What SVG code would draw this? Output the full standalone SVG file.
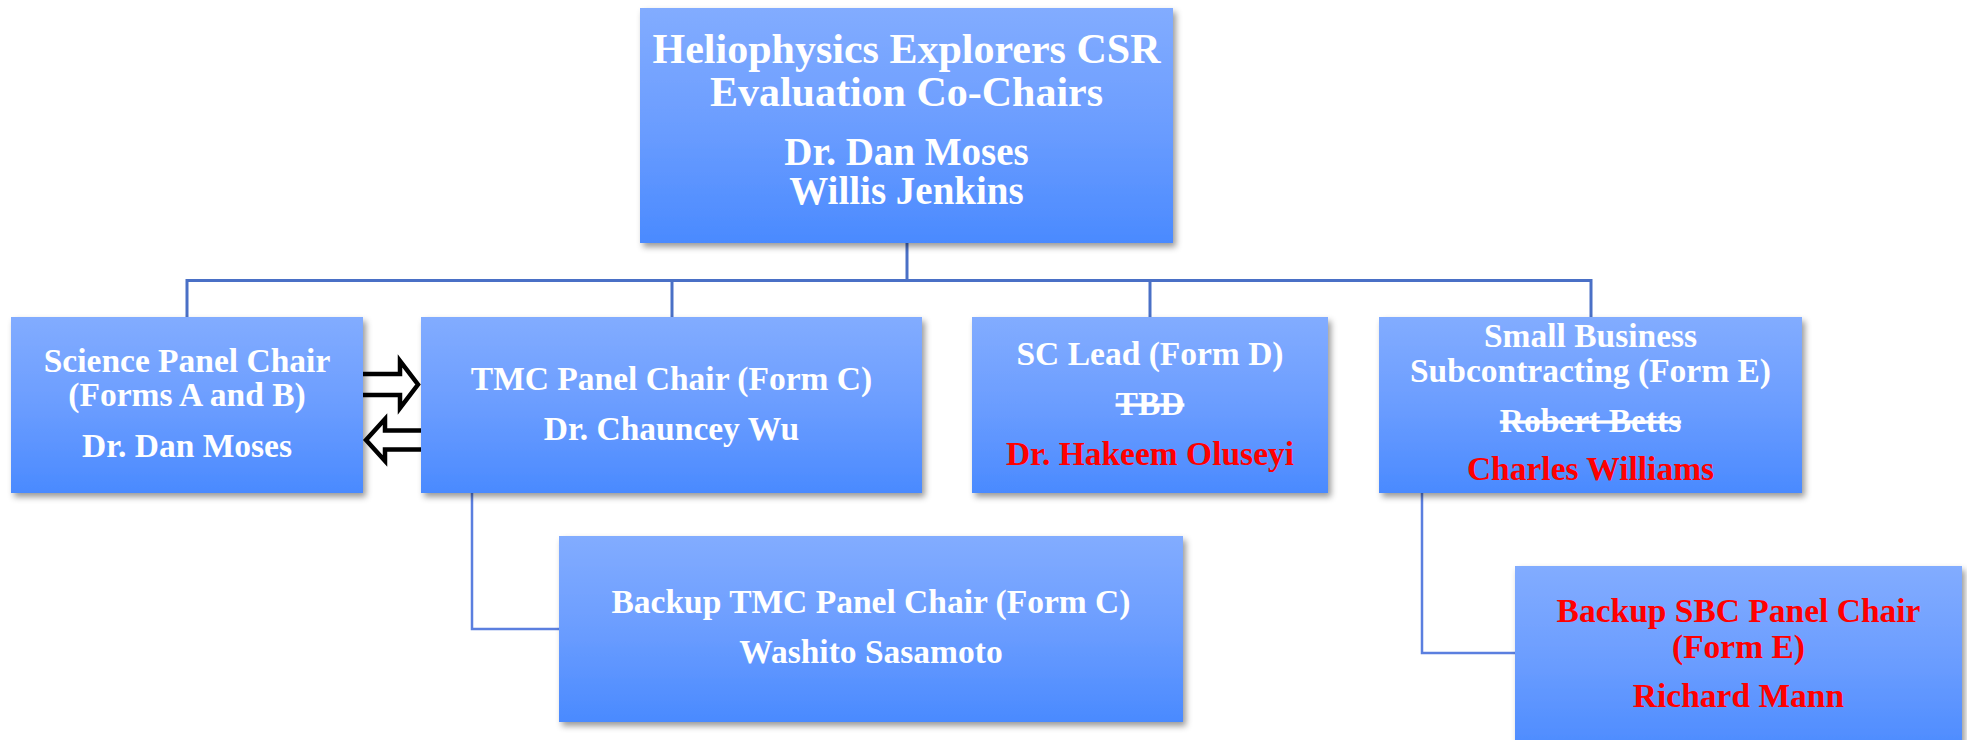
<svg xmlns="http://www.w3.org/2000/svg" width="1967" height="740" viewBox="0 0 1967 740">
<defs>
<linearGradient id="boxGrad" x1="0" y1="0" x2="0" y2="1">
<stop offset="0" stop-color="#82ACFF"/>
<stop offset="0.5" stop-color="#6B9DFF"/>
<stop offset="1" stop-color="#4A8AFF"/>
</linearGradient>
<filter id="shadow" x="-5%" y="-5%" width="115%" height="125%">
<feDropShadow dx="3" dy="4" stdDeviation="3" flood-color="#000" flood-opacity="0.4"/>
</filter>
</defs>
<style>
.box{fill:url(#boxGrad);filter:url(#shadow);}
.t{font-family:"Liberation Serif","Times New Roman",serif;font-weight:bold;fill:#FFFFFF;text-anchor:middle;font-size:33.5px;}
.red{fill:#FF0000;}
.strike{text-decoration:line-through;}
.tree{stroke:#4A70C6;stroke-width:3;fill:none;}
.elbow{stroke:#5B7FDF;stroke-width:2.5;fill:none;}
.arrow{stroke:#000;stroke-width:4.5;fill:none;stroke-linejoin:miter;}
</style>
<rect width="1967" height="740" fill="#FFFFFF"/>
<g id="connectors">
<path class="tree" d="M907 243 V280.5"/>
<path class="tree" d="M187 317 V280.5 H1591 V317"/>
<path class="tree" d="M672 280.5 V317"/>
<path class="tree" d="M1150 280.5 V317"/>
<path class="elbow" d="M472 493 V629 H559"/>
<path class="elbow" d="M1422 493 V653 H1515"/>
<path class="arrow" d="M355 374 H400 V361 L418 384.5 L400 408 V395 H355"/>
<path class="arrow" d="M430 430.5 H385 V419 L366 440 L385 461 V449.5 H430"/>
</g>
<g id="node-cochairs">
<rect class="box" x="640" y="8" width="533" height="235"/>
<text class="t" x="906.5" y="63" style="font-size:42px">Heliophysics Explorers CSR</text>
<text class="t" x="906.5" y="106" style="font-size:42px">Evaluation Co-Chairs</text>
<text class="t" x="906.5" y="165" style="font-size:39px">Dr. Dan Moses</text>
<text class="t" x="906.5" y="204" style="font-size:39px">Willis Jenkins</text>
</g>
<g id="node-science">
<rect class="box" x="11" y="317" width="352" height="176"/>
<text class="t" x="187" y="372">Science Panel Chair</text>
<text class="t" x="187" y="406">(Forms A and B)</text>
<text class="t" x="187" y="457">Dr. Dan Moses</text>
</g>
<g id="node-tmc">
<rect class="box" x="421" y="317" width="501" height="176"/>
<text class="t" x="671.5" y="390">TMC Panel Chair (Form C)</text>
<text class="t" x="671.5" y="440">Dr. Chauncey Wu</text>
</g>
<g id="node-sclead">
<rect class="box" x="972" y="317" width="356" height="176"/>
<text class="t" x="1150" y="365">SC Lead (Form D)</text>
<text class="t strike" x="1150" y="415">TBD</text>
<text class="t red" x="1150" y="465">Dr. Hakeem Oluseyi</text>
</g>
<g id="node-sbc">
<rect class="box" x="1379" y="317" width="423" height="176"/>
<text class="t" x="1590.5" y="347">Small Business</text>
<text class="t" x="1590.5" y="382">Subcontracting (Form E)</text>
<text class="t strike" x="1590.5" y="432">Robert Betts</text>
<text class="t red" x="1590.5" y="480">Charles Williams</text>
</g>
<g id="node-backup-tmc">
<rect class="box" x="559" y="536" width="624" height="186"/>
<text class="t" x="871" y="613">Backup TMC Panel Chair (Form C)</text>
<text class="t" x="871" y="663">Washito Sasamoto</text>
</g>
<g id="node-backup-sbc">
<rect class="box" x="1515" y="566" width="447" height="190"/>
<text class="t red" x="1738.5" y="622">Backup SBC Panel Chair</text>
<text class="t red" x="1738.5" y="658">(Form E)</text>
<text class="t red" x="1738.5" y="707">Richard Mann</text>
</g>
</svg>
